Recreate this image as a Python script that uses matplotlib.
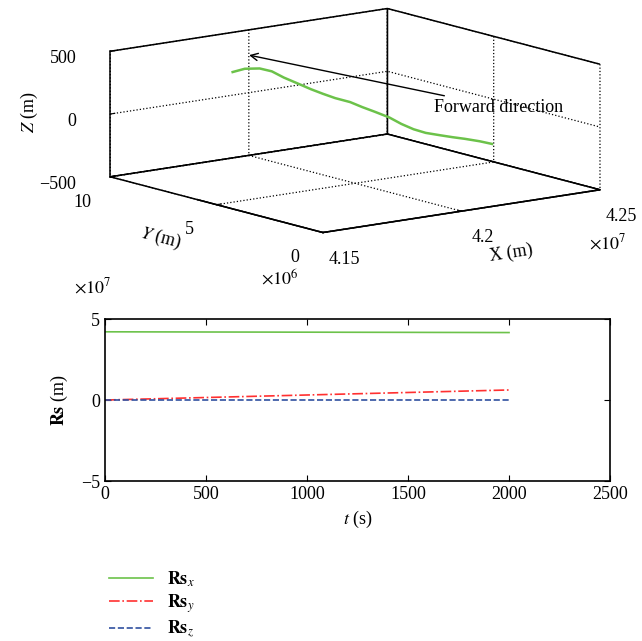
import numpy as np
import matplotlib
matplotlib.use('Agg')
import matplotlib.pyplot as plt
from matplotlib.ticker import FuncFormatter
from matplotlib.lines import Line2D

plt.rcParams['font.family'] = ['Liberation Serif', 'DejaVu Serif']
plt.rcParams['mathtext.fontset'] = 'stix'
plt.rcParams['font.size'] = 13
plt.rcParams['axes.unicode_minus'] = True
plt.rcParams['grid.linestyle'] = ':'
plt.rcParams['grid.color'] = 'k'
plt.rcParams['grid.linewidth'] = 0.9

# time samples (s)
t_s = [0, 100, 200, 300, 400, 500, 600, 700, 800, 900, 1000,
       1100, 1200, 1300, 1400, 1500, 1600, 1700, 1800, 1900, 2000]
# position components (m)
rs_x = [4.211e7, 4.209e7, 4.206e7, 4.204e7, 4.202e7, 4.199e7, 4.197e7,
        4.195e7, 4.193e7, 4.190e7, 4.188e7, 4.186e7, 4.183e7, 4.181e7,
        4.179e7, 4.177e7, 4.174e7, 4.172e7, 4.170e7, 4.167e7, 4.165e7]
rs_y = [0.0, 0.31e6, 0.62e6, 0.93e6, 1.24e6, 1.55e6, 1.86e6, 2.17e6,
        2.48e6, 2.79e6, 3.10e6, 3.41e6, 3.72e6, 4.03e6, 4.34e6, 4.65e6,
        4.96e6, 5.27e6, 5.58e6, 5.89e6, 6.20e6]
rs_z = [-2, 12, 28, 34, 42, 58, 80, 115, 160, 203, 232,
        265, 293, 320, 350, 385, 432, 475, 491, 485, 452]

x_lim = (4.15e7, 4.25e7)
y_lim = (0, 1e7)
z_lim = (-500, 500)

green = '#6cc24a'
red = '#ff3030'
blue = '#3050a0'

fig = plt.figure(figsize=(6.42, 6.41), dpi=100)

# ---- 3D trajectory ----
ax3 = fig.add_axes([0.0467, 0.5655, 1.0, 0.48], projection='3d', proj_type='ortho')
ax3.plot(rs_x, rs_y, rs_z, color=green, lw=1.8)
# front-left floor edge of the box (pane outline leaves it open)
ax3.plot([x_lim[0], x_lim[0]], list(y_lim), [z_lim[0], z_lim[0]], color='k', lw=1.1)
ax3.set_xlim(*x_lim)
ax3.set_ylim(*y_lim)
ax3.set_zlim(*z_lim)
ax3.set_xticks([4.15e7, 4.2e7, 4.25e7])
ax3.set_yticks([0, 5e6, 1e7])
ax3.set_zticks([-500, 0, 500])
ax3.xaxis.set_major_formatter(FuncFormatter(lambda v, p: f'{v / 1e7:g}'))
ax3.yaxis.set_major_formatter(FuncFormatter(lambda v, p: f'{v / 1e6:g}'))
ax3.view_init(elev=11.6, azim=-127.5)
ax3.set_box_aspect((1, 1, 0.367), zoom=1.61)
for axis in (ax3.xaxis, ax3.yaxis, ax3.zaxis):
    axis.set_pane_color('white')
    axis.pane.set_edgecolor('k')
    axis.pane.set_linewidth(1.1)
    axis.line.set_color('k')
    axis.line.set_linewidth(1.1)
    axis._axinfo['tick']['inward_factor'] = 0.0
    axis._axinfo['tick']['outward_factor'] = 0.2
for lbl in ax3.get_zticklabels():
    lbl.set_ha('right')
ax3.zaxis.set_tick_params(pad=0)
ax3.set_xlabel('X (m)', labelpad=6)
ax3.set_ylabel('$Y$ (m)', labelpad=2)
ax3.set_zlabel('$Z$ (m)', labelpad=-2)

fig.text(0.947, 0.621, r'$\times 10^{7}$', fontsize=13, ha='center', va='center')
fig.text(0.436, 0.566, r'$\times 10^{6}$', fontsize=13, ha='center', va='center')
fig.text(0.145, 0.552, r'$\times 10^{7}$', fontsize=13, ha='center', va='center')

fig.add_artist(plt.Annotation('Forward direction', xy=(0.388, 0.914), xytext=(0.676, 0.833),
                              xycoords='figure fraction', textcoords='figure fraction',
                              va='center', ha='left', fontsize=13,
                              arrowprops=dict(arrowstyle='->', color='k', lw=1.0,
                                              shrinkA=0, shrinkB=0)))

# ---- 2D components ----
ax = fig.add_axes([0.1636, 0.2496, 0.7866, 0.2527])
ax.plot(t_s, rs_x, color=green, lw=1.2, ls='-')
ax.plot(t_s, rs_y, color=red, lw=1.2, ls='-.')
ax.plot(t_s, rs_z, color=blue, lw=1.2, ls='--')
ax.set_xlim(0, 2500)
ax.set_ylim(-5e7, 5e7)
ax.set_xticks([0, 500, 1000, 1500, 2000, 2500])
ax.set_yticks([-5e7, 0, 5e7])
ax.yaxis.set_major_formatter(FuncFormatter(lambda v, p: f'{v / 1e7:g}'.replace('-', '\u2212')))
ax.tick_params(direction='in', top=True, right=True, length=4)
for s in ax.spines.values():
    s.set_linewidth(1.2)
ax.set_xlabel('$t$ (s)')
ax.set_ylabel(r'$\mathbf{Rs}$ (m)', labelpad=8)

handles = [Line2D([], [], color=green, ls='-', lw=1.2),
           Line2D([], [], color=red, ls='-.', lw=1.2),
           Line2D([], [], color=blue, ls='--', lw=1.2)]
labels = [r'$\mathbf{Rs}_{x}$', r'$\mathbf{Rs}_{y}$', r'$\mathbf{Rs}_{z}$']
fig.legend(handles, labels, loc='upper left', bbox_to_anchor=(0.145, 0.137),
           frameon=False, handlelength=2.4, labelspacing=0.2, fontsize=13)

fig.savefig('out.png', dpi=100)
